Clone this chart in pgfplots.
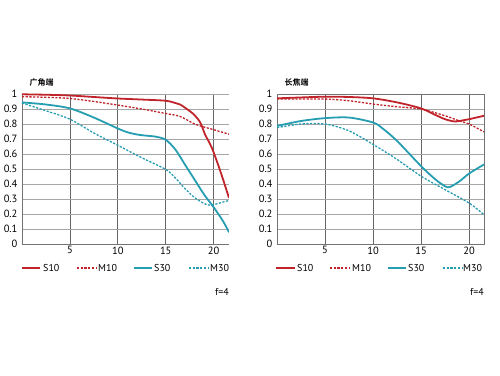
\documentclass[border=0pt]{standalone}
\usepackage{fontspec}
\setmainfont{PT Sans}
\newfontfamily\cjk{Noto Sans CJK SC Bold}
\usepackage{pgfplots}
\pgfplotsset{compat=1.18}
\definecolor{mtfred}{RGB}{192,36,42}
\definecolor{mtfteal}{RGB}{38,158,178}
\tikzset{
  s10/.style={color=mtfred, line width=1.8pt},
  m10/.style={color=mtfred, line width=1.3pt, dash pattern=on 2.2pt off 1.5pt},
  s30/.style={color=mtfteal, line width=1.8pt},
  m30/.style={color=mtfteal, line width=1.3pt, dash pattern=on 2.2pt off 1.5pt},
}
\pgfplotsset{
  mtf/.style={
    scale only axis, width=207pt, height=150pt,
    xmin=0, ymin=0, ymax=1,
    xtick={5,10,15,20}, ytick={0,0.1,...,1},
    yticklabels={0,0.1,0.2,0.3,0.4,0.5,0.6,0.7,0.8,0.9,1},
    /pgf/number format/assume math mode=true,
    tick label style={font=\fontsize{10.5}{10.5}\selectfont},
    major tick length=0pt,
    xmajorgrids, ymajorgrids,
    x grid style={black!60, line width=0.7pt},
    y grid style={black!35, line width=0.6pt},
    yticklabel style={xshift=-1pt},
    xticklabel style={yshift=1pt},
    every axis plot/.append style={smooth, tension=0.5},
  },
}
\begin{document}
\begin{tikzpicture}[x=1pt,y=1pt]
\path (0,0) rectangle (500,375);
% left panel
\begin{axis}[mtf, at={(22pt,131pt)}, anchor=south west, xmax=21.6,
  axis x line=bottom, axis y line=left, axis line style={-, black!55, line width=0.7pt}]
\addplot[s10] coordinates {(0,0.998)(2.5,0.995)(5,0.99)(7.5,0.98)(10,0.97)(12.5,0.963)(15,0.955)(16,0.94)(16.5,0.93)(17.2,0.90)(17.9,0.866)(18.6,0.81)(19.1,0.73)(19.6,0.67)(20,0.61)(20.7,0.485)(21.6,0.307)};
\addplot[m10] coordinates {(0,0.982)(2.5,0.978)(5,0.97)(7.5,0.95)(10,0.926)(12.5,0.90)(15,0.87)(16.5,0.85)(18,0.80)(18.6,0.787)(20,0.762)(21.6,0.732)};
\addplot[s30] coordinates {(0,0.944)(2.5,0.93)(5,0.904)(7.5,0.843)(10,0.77)(11,0.745)(12,0.73)(13,0.722)(14,0.715)(15,0.695)(16,0.63)(17,0.53)(18,0.43)(19,0.33)(20,0.245)(21,0.15)(21.6,0.078)};
\addplot[m30] coordinates {(0,0.94)(2.5,0.888)(5,0.832)(7.5,0.74)(10,0.658)(12.5,0.575)(15,0.497)(16,0.44)(17,0.37)(18,0.31)(19,0.27)(19.5,0.26)(20,0.262)(21,0.28)(21.6,0.29)};
\end{axis}
% right panel
\begin{axis}[mtf, at={(277pt,131pt)}, anchor=south west, xmax=21.55,
  axis line style={black!55, line width=0.7pt}]
\addplot[s10] coordinates {(0,0.971)(2.5,0.977)(5,0.982)(7.5,0.98)(10,0.971)(12.5,0.944)(15,0.904)(16.5,0.86)(17.5,0.832)(18.5,0.817)(19.5,0.826)(20,0.832)(21.55,0.855)};
\addplot[m10] coordinates {(0,0.966)(5,0.966)(7.5,0.955)(10,0.933)(12.5,0.915)(15,0.899)(17.5,0.855)(19,0.82)(20,0.80)(21.55,0.747)};
\addplot[s30] coordinates {(0,0.787)(2.5,0.82)(5,0.839)(7.5,0.843)(10,0.81)(11,0.77)(12.5,0.687)(15,0.519)(16.5,0.43)(17.5,0.385)(18,0.38)(19,0.418)(20,0.47)(21.55,0.53)};
\addplot[m30] coordinates {(0,0.776)(2.5,0.80)(5,0.80)(7.5,0.754)(10,0.664)(12.5,0.564)(15,0.452)(17.5,0.362)(20,0.273)(21.55,0.195)};
\end{axis}
% titles
\node[anchor=west, font=\cjk\fontsize{8}{8}\selectfont] at (26,293) {广角端};
\node[anchor=west, font=\cjk\fontsize{8}{8}\selectfont] at (281,293) {长焦端};
% legends
\begin{scope}[font=\fontsize{10}{10}\selectfont]
\draw[s10] (22,107) -- (40,107); \node[anchor=west, inner sep=1pt] at (42,107) {S10};
\draw[m10] (77,107) -- (97,107); \node[anchor=west, inner sep=1pt] at (97,107) {M10};
\draw[s30] (134,107) -- (152,107); \node[anchor=west, inner sep=1pt] at (153,107) {S30};
\draw[m30] (189,107) -- (209,107); \node[anchor=west, inner sep=1pt] at (209,107) {M30};
\node[anchor=east, inner sep=1pt] at (230,83) {f=4};
\draw[s10] (276,107) -- (295,107); \node[anchor=west, inner sep=1pt] at (296,107) {S10};
\draw[m10] (330,107) -- (350,107); \node[anchor=west, inner sep=1pt] at (351,107) {M10};
\draw[s30] (388,107) -- (406,107); \node[anchor=west, inner sep=1pt] at (407,107) {S30};
\draw[m30] (443,107) -- (462,107); \node[anchor=west, inner sep=1pt] at (462,107) {M30};
\node[anchor=east, inner sep=1pt] at (485,83) {f=4};
\end{scope}
\end{tikzpicture}
\end{document}
